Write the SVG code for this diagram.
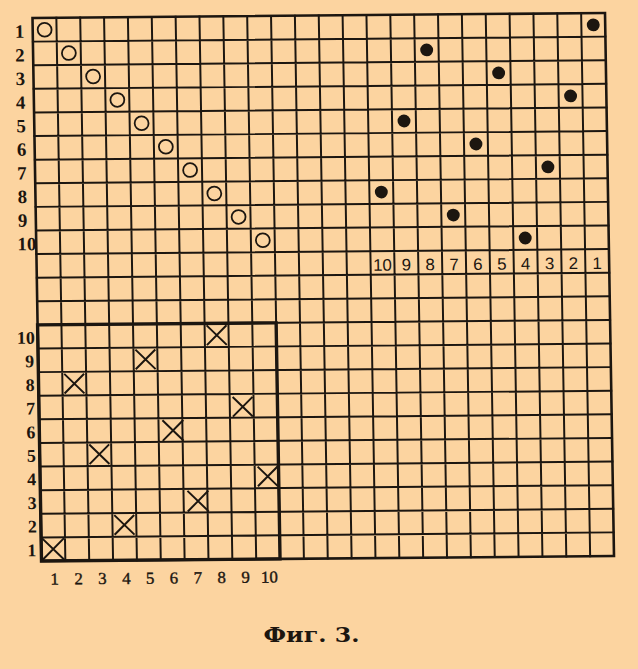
<svg xmlns="http://www.w3.org/2000/svg" width="638" height="669" viewBox="0 0 638 669">
<style>
.grid{fill:none;stroke:#1c1610;stroke-width:2;stroke-linecap:square}
.border{fill:none;stroke:#1c1610;stroke-width:2.6}
.box{fill:none;stroke:#1c1610;stroke-width:3.4}
.open{fill:none;stroke:#1c1610;stroke-width:1.8}
.dot{fill:#1c1610}
.cross{fill:none;stroke:#1c1610;stroke-width:2}
.lblA{font-family:"Liberation Serif","DejaVu Serif",serif;font-weight:bold;font-size:19px;fill:#1c1610}
.lblB{font-family:"Liberation Sans","DejaVu Sans",sans-serif;font-size:17px;fill:#1c1610;text-anchor:middle}
.lblC{font-family:"Liberation Serif","DejaVu Serif",serif;font-weight:bold;font-size:18px;fill:#1c1610;text-anchor:end}
.lblD{font-family:"Liberation Serif","DejaVu Serif",serif;font-size:17px;fill:#1c1610;stroke:#1c1610;stroke-width:0.4;text-anchor:middle}
.cap{font-family:"DejaVu Serif","Liberation Serif",serif;font-weight:bold;font-size:21px;fill:#1c1610;text-anchor:middle}
</style>
<rect x="0" y="0" width="638" height="669" fill="#FCD4A0"/>
<g id="chart" transform="matrix(0.99392,-0.00868,0.0163,0.9837,32.5,18)">
  <g id="grid">
    <path class="grid" d="M24 0V552M48 0V552M72 0V552M96 0V552M120 0V552M144 0V552M168 0V552M192 0V552M216 0V552M240 0V552M264 0V552M288 0V552M312 0V552M336 0V552M360 0V552M384 0V552M408 0V552M432 0V552M456 0V552M480 0V552M504 0V552M528 0V552M552 0V552M0 24H576M0 48H576M0 72H576M0 96H576M0 120H576M0 144H576M0 168H576M0 192H576M0 216H576M0 240H576M0 264H576M0 288H576M0 312H576M0 336H576M0 360H576M0 384H576M0 408H576M0 432H576M0 456H576M0 480H576M0 504H576M0 528H576"/>
    <rect class="border" x="0" y="0" width="576" height="552"/>
    <rect id="box" class="box" x="0" y="312" width="240" height="240"/>
  </g>
  <g id="open-circles">
    <circle class="open" cx="12" cy="12" r="7"/>
    <circle class="open" cx="36" cy="36" r="7"/>
    <circle class="open" cx="60" cy="60" r="7"/>
    <circle class="open" cx="84" cy="84" r="7"/>
    <circle class="open" cx="108" cy="108" r="7"/>
    <circle class="open" cx="132" cy="132" r="7"/>
    <circle class="open" cx="156" cy="156" r="7"/>
    <circle class="open" cx="180" cy="180" r="7"/>
    <circle class="open" cx="204" cy="204" r="7"/>
    <circle class="open" cx="228" cy="228" r="7"/>
  </g>
  <g id="filled-dots">
    <circle class="dot" cx="564" cy="12" r="6.5"/>
    <circle class="dot" cx="396" cy="36" r="6.5"/>
    <circle class="dot" cx="468" cy="60" r="6.5"/>
    <circle class="dot" cx="540" cy="84" r="6.5"/>
    <circle class="dot" cx="372" cy="108" r="6.5"/>
    <circle class="dot" cx="444" cy="132" r="6.5"/>
    <circle class="dot" cx="516" cy="156" r="6.5"/>
    <circle class="dot" cx="348" cy="180" r="6.5"/>
    <circle class="dot" cx="420" cy="204" r="6.5"/>
    <circle class="dot" cx="492" cy="228" r="6.5"/>
  </g>
  <g id="crosses">
    <path class="cross" d="M1 529L23 551M23 529L1 551"/>
    <path class="cross" d="M26 362L46 382M46 362L26 382"/>
    <path class="cross" d="M50 434L70 454M70 434L50 454"/>
    <path class="cross" d="M74 506L94 526M94 506L74 526"/>
    <path class="cross" d="M98 338L118 358M118 338L98 358"/>
    <path class="cross" d="M124 410L145 431M145 410L124 431"/>
    <path class="cross" d="M148 482L169 503M169 482L148 503"/>
    <path class="cross" d="M170 314L190 334M190 314L170 334"/>
    <path class="cross" d="M195 387L215 407M215 387L195 407"/>
    <path class="cross" d="M219 458L239 478M239 458L219 478"/>
  </g>
  <g id="row-labels-top">
    <text class="lblA" x="-18" y="20">1</text>
    <text class="lblA" x="-18" y="44">2</text>
    <text class="lblA" x="-18" y="68">3</text>
    <text class="lblA" x="-18" y="92">4</text>
    <text class="lblA" x="-18" y="116">5</text>
    <text class="lblA" x="-18" y="140">6</text>
    <text class="lblA" x="-18" y="164">7</text>
    <text class="lblA" x="-18" y="188">8</text>
    <text class="lblA" x="-18" y="212">9</text>
    <text class="lblA" x="-19" y="236">10</text>
  </g>
  <g id="dot-labels">
    <text class="lblB" x="348" y="260">10</text>
    <text class="lblB" x="372" y="260">9</text>
    <text class="lblB" x="396" y="260">8</text>
    <text class="lblB" x="420" y="260">7</text>
    <text class="lblB" x="444" y="260">6</text>
    <text class="lblB" x="468" y="260">5</text>
    <text class="lblB" x="492" y="260">4</text>
    <text class="lblB" x="516" y="260">3</text>
    <text class="lblB" x="540" y="260">2</text>
    <text class="lblB" x="564" y="260">1</text>
  </g>
  <g id="box-row-labels">
    <text class="lblC" x="-3" y="331">10</text>
    <text class="lblC" x="-4" y="355">9</text>
    <text class="lblC" x="-4" y="379">8</text>
    <text class="lblC" x="-4" y="403">7</text>
    <text class="lblC" x="-4" y="427">6</text>
    <text class="lblC" x="-4" y="451">5</text>
    <text class="lblC" x="-4" y="475">4</text>
    <text class="lblC" x="-4" y="499">3</text>
    <text class="lblC" x="-4" y="523">2</text>
    <text class="lblC" x="-5" y="547">1</text>
  </g>
  <g id="box-col-labels">
    <text class="lblD" x="13" y="576">1</text>
    <text class="lblD" x="37" y="576">2</text>
    <text class="lblD" x="61" y="576">3</text>
    <text class="lblD" x="85" y="576">4</text>
    <text class="lblD" x="109" y="576">5</text>
    <text class="lblD" x="133" y="576">6</text>
    <text class="lblD" x="157" y="576">7</text>
    <text class="lblD" x="181" y="576">8</text>
    <text class="lblD" x="205" y="576">9</text>
    <text class="lblD" x="229" y="576">10</text>
  </g>
</g>
<text id="caption" class="cap" x="311.5" y="642" textLength="96" lengthAdjust="spacingAndGlyphs">Фиг. 3.</text>
</svg>
